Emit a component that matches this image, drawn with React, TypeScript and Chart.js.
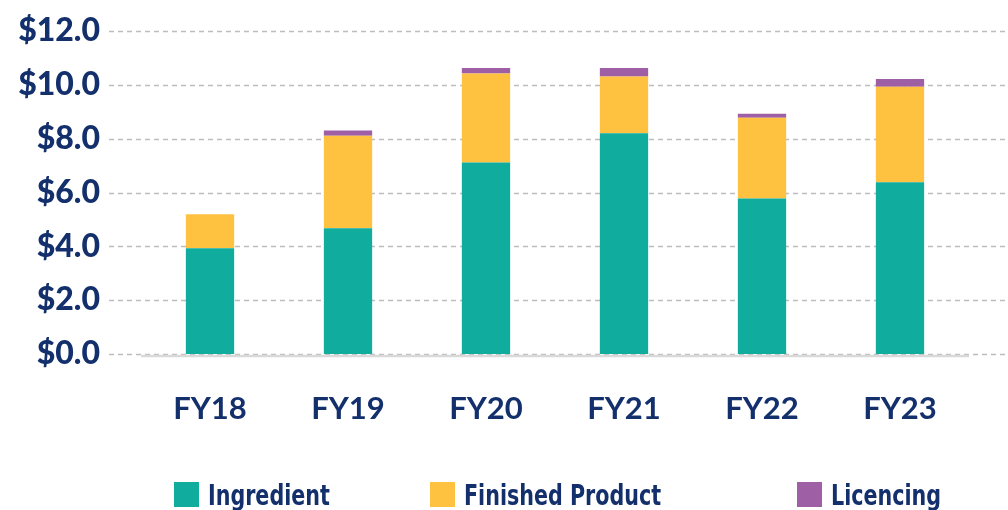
import React, { useEffect, useRef } from "react";
import { Chart, registerables } from "chart.js";

Chart.register(...registerables);

const categories = ["FY18", "FY19", "FY20", "FY21", "FY22", "FY23"];
const ingredient = [3.93, 4.67, 7.11, 8.2, 5.78, 6.38];
const finishedProduct = [1.26, 3.44, 3.31, 2.11, 3.0, 3.55];
const licencing = [0, 0.19, 0.21, 0.32, 0.15, 0.29];
const yTicks = [0, 2, 4, 6, 8, 10, 12];

const NAVY = "#13306d";
const TEAL = "#10ad9e";
const YELLOW = "#ffc240";
const PURPLE = "#9e5fa5";

const legendItems = [
  { label: "Ingredient", color: TEAL, x: 174 },
  { label: "Finished Product", color: YELLOW, x: 430 },
  { label: "Licencing", color: PURPLE, x: 797 },
];

const gridPlugin = {
  id: "customGrid",
  beforeDatasetsDraw(chart: any) {
    const { ctx, scales, chartArea } = chart;
    const y = scales.y;
    ctx.save();
    ctx.strokeStyle = "#bdbdbd";
    ctx.lineWidth = 1.5;
    ctx.setLineDash([5, 4]);
    yTicks.forEach((v) => {
      const py = Math.round(y.getPixelForValue(v)) + 0.5;
      ctx.beginPath();
      ctx.moveTo(109, py);
      ctx.lineTo(chart.width, py);
      ctx.stroke();
    });
    ctx.setLineDash([]);
    ctx.strokeStyle = "#d9d9d9";
    ctx.lineWidth = 2.5;
    const by = y.getPixelForValue(0) + 2;
    ctx.beginPath();
    ctx.moveTo(chartArea.left, by);
    ctx.lineTo(chartArea.right, by);
    ctx.stroke();
    ctx.restore();
  },
};

export default function App() {
  const ref = useRef<HTMLCanvasElement | null>(null);
  useEffect(() => {
    if (!ref.current) return;
    const chart = new Chart(ref.current, {
      type: "bar",
      data: {
        labels: categories,
        datasets: [
          { label: "Ingredient", data: ingredient, backgroundColor: TEAL },
          { label: "Finished Product", data: finishedProduct, backgroundColor: YELLOW },
          { label: "Licencing", data: licencing, backgroundColor: PURPLE },
        ],
      },
      options: {
        animation: false,
        responsive: false,
        maintainAspectRatio: false,
        layout: { padding: { top: 31, right: 39, bottom: 66, left: 0 } },
        datasets: { bar: { barPercentage: 0.35, categoryPercentage: 1 } },
        plugins: { legend: { display: false }, tooltip: { enabled: false } },
        scales: {
          x: {
            stacked: true,
            grid: { display: false, drawTicks: false },
            border: { display: false },
            ticks: {
              color: NAVY,
              font: { family: "Lato", weight: "bold", size: 31 },
              padding: 36,
            },
            afterFit(scale: any) {
              scale.height = 90;
            },
          },
          y: {
            stacked: true,
            min: 0,
            max: 12,
            grid: { display: false, drawTicks: false },
            border: { display: false },
            afterBuildTicks(scale: any) {
              scale.ticks = yTicks.map((v) => ({ value: v }));
            },
            ticks: {
              color: NAVY,
              font: { family: "Lato", weight: "900", size: 32 },
              padding: 41,
              callback: (v: any) => "$" + Number(v).toFixed(1),
            },
            afterFit(scale: any) {
              scale.width = 141;
              scale.paddingTop = 0;
              scale.paddingBottom = 0;
            },
          },
        },
      },
      plugins: [gridPlugin],
    });
    return () => chart.destroy();
  }, []);

  return (
    <div style={{ position: "fixed", left: 0, top: 0, width: 1008, height: 510, background: "#fff" }}>
      <canvas ref={ref} width={1008} height={510} style={{ display: "block" }} />
      {legendItems.map((it) => (
        <div
          key={it.label}
          style={{
            position: "absolute",
            left: it.x,
            top: 482,
            height: 25,
            display: "flex",
            alignItems: "center",
            whiteSpace: "nowrap",
          }}
        >
          <span style={{ display: "inline-block", width: 25, height: 25, background: it.color, marginRight: 9 }} />
          <span
            style={{
              display: "inline-block",
              fontFamily: "'Liberation Sans Narrow', 'DejaVu Sans Condensed', sans-serif",
              fontWeight: 700,
              fontSize: 28,
              color: NAVY,
              lineHeight: "25px",
              position: "relative",
              top: 1,
              transform: "scaleX(0.82)",
              transformOrigin: "left center",
            }}
          >
            {it.label}
          </span>
        </div>
      ))}
    </div>
  );
}
